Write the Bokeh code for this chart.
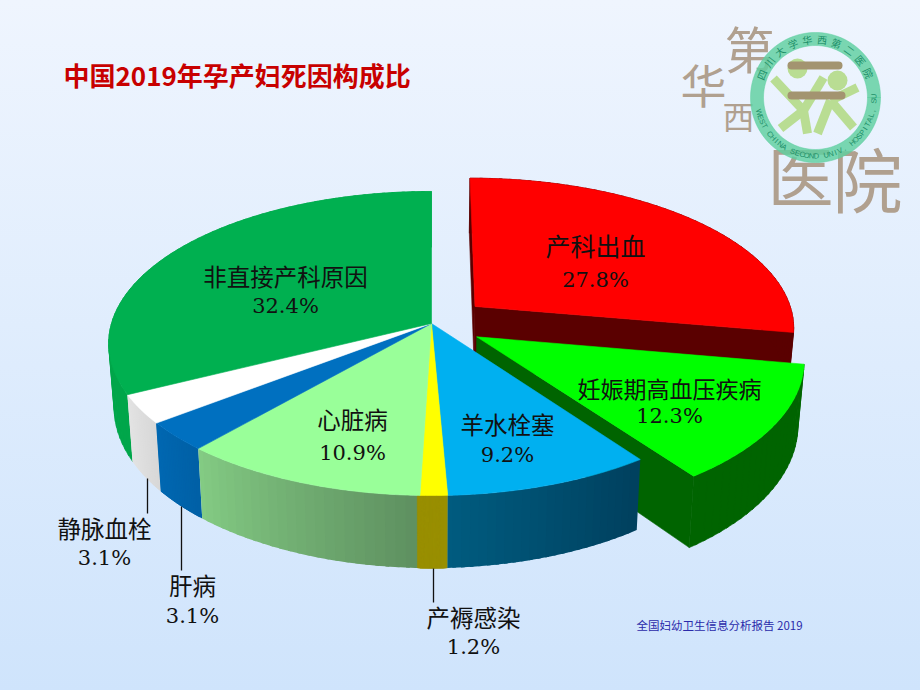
import math
from bokeh.plotting import figure
from bokeh.models import Range1d
from bokeh.core.properties import value
from bokeh.embed import file_html
from bokeh.resources import INLINE

# ---- data ----
categories = ["产科出血", "妊娠期高血压疾病", "羊水栓塞", "产褥感染", "心脏病", "肝病", "静脉血栓", "非直接产科原因"]
shares = [27.8, 12.3, 9.2, 1.2, 10.9, 3.1, 3.1, 32.4]
share_labels = ["27.8%", "12.3%", "9.2%", "1.2%", "10.9%", "3.1%", "3.1%", "32.4%"]
explode = [0.18, 0.165, 0, 0, 0, 0, 0, 0]
top_colors = ["#ff0000", "#00ff00", "#00b0f0", "#ffff00", "#99ff99", "#0070c0", "#ffffff", "#00b050"]
side_left = ["#5a0000", "#006400", "#005c80", "#998f00", "#84cc84", "#0068b2", "#e4e4e4", "#00a64a"]
side_right = ["#5a0000", "#006400", "#00405e", "#998f00", "#5e9060", "#0060a6", "#d8d8d8", "#00a64a"]

label_x = [595, 669, 507, 473, 352, 192, 104, 285]
name_y = [244.5, 387, 423, 616, 418.5, 584.5, 527, 275.5]
pct_y = [279, 415, 454, 646, 452, 615.5, 557, 305]
name_size = [25, 23, 23.5, 23.5, 23.5, 23.5, 23.5, 23.5]
leaders = {3: (433, 568, 602), 5: (181, 506, 570), 6: (147, 478, 513)}

title = "中国2019年孕产妇死因构成比"
source_note = "全国妇幼卫生信息分析报告 2019"

# ---- projection of the tilted pie ----
CX, CY, RX, RY, PERSP, DEPTH, SHRINK = 431, 323, 320, 149.4, 0.1316, 63, 0.983


def project(X, Y, bottom=False):
    s = 1 / (1 + PERSP * Y)
    sx, sy = CX + RX * X * s, CY - RY * Y * s
    if bottom:
        sx, sy = CX + (sx - CX) * SHRINK, sy + DEPTH * s
    return sx, sy


def arc(a0, a1, ox, oy, bottom=False, step=1.0):
    n = max(2, int(abs(a1 - a0) / step) + 1)
    out = []
    for i in range(n + 1):
        a = math.radians(a0 + (a1 - a0) * i / n)
        out.append(project(ox + math.sin(a), oy + math.cos(a), bottom))
    return out


def lerp(c0, c1, t):
    a = [int(c0[i:i + 2], 16) for i in (1, 3, 5)]
    b = [int(c1[i:i + 2], 16) for i in (1, 3, 5)]
    return "#%02x%02x%02x" % tuple(round(x + (y - x) * t) for x, y in zip(a, b))


p = figure(width=920, height=690, x_range=Range1d(0, 920), y_range=Range1d(690, 0),
           output_backend="svg", toolbar_location=None, min_border=0)
p.axis.visible = False
p.grid.visible = False
p.outline_line_color = None
p.background_fill_color = None
p.border_fill_color = None


def poly(points, color, alpha=1.0, stroke=True):
    p.patch([q[0] for q in points], [q[1] for q in points], fill_color=color, fill_alpha=alpha,
            line_color=color if stroke else None, line_width=0.6, line_alpha=alpha)


total = sum(shares)
spans = []
acc = 0.0
for v in shares:
    spans.append((acc / total * 360, (acc + v) / total * 360))
    acc += v


def offset(i):
    a0, a1 = spans[i]
    m = math.radians((a0 + a1) / 2)
    return explode[i] * math.sin(m), explode[i] * math.cos(m)


def radial_face(i, angle, color):
    ox, oy = offset(i)
    a = math.radians(angle)
    ex, ey = ox + math.sin(a), oy + math.cos(a)
    poly([project(ox, oy), project(ex, ey), project(ex, ey, True), project(ox, oy, True)], color)


def outer_side(i):
    ox, oy = offset(i)
    a0, a1 = spans[i]
    same = side_left[i] == side_right[i]
    strips = max(24, int((a1 - a0) / 2))
    # painted from the end of the slice back to its start, each strip lapping over the last
    for k in range(strips - 1, -1, -1):
        b0 = a0 + (a1 - a0) * k / strips
        b1 = a0 + (a1 - a0) * (k + 1) / strips
        if k < strips - 1:
            b1 += 0.6
        c = lerp(side_left[i], side_right[i], 1 - (k + 0.5) / strips)
        poly(arc(b0, b1, ox, oy) + arc(b1, b0, ox, oy, True), c, stroke=same)


def top(i):
    ox, oy = offset(i)
    poly([project(ox, oy)] + arc(spans[i][0], spans[i][1], ox, oy), top_colors[i])


# exploded slices, back to front
radial_face(0, spans[0][0], side_left[0])
radial_face(0, spans[0][1], side_left[0])
outer_side(0)
top(0)
radial_face(1, spans[1][1], side_left[1])
outer_side(1)
top(1)
# the joined body
for i in range(7, 1, -1):
    outer_side(i)
for i in range(2, 8):
    top(i)

# leader lines
for i, (x, y0, y1) in leaders.items():
    p.segment([x], [y0], [x], [y1], line_color="#111111", line_width=1.3)

cjk = value("Noto Sans CJK SC")
num = value("DejaVu Serif")
for i, c in enumerate(categories):
    p.text([label_x[i]], [name_y[i]], text=[c], text_font=cjk, text_font_size=f"{name_size[i]}px",
           text_color="#111111", text_align="center", text_baseline="middle")
    p.text([label_x[i]], [pct_y[i]], text=[share_labels[i]], text_font=num, text_font_size="21px",
           text_color="#111111", text_align="center", text_baseline="middle")

p.text([63], [74], text=[title], text_font=cjk, text_font_size="26px", text_font_style="bold",
       text_color="#c80000", text_align="left", text_baseline="middle")
p.text([636], [624], text=[source_note], text_font=cjk, text_font_size="11.5px", text_color="#2a2aaa",
       text_align="left", text_baseline="middle")

# ---- hospital emblem ----
seal = ["第", "华", "西", "医", "院"]
seal_x = [749, 703, 738, 800, 867]
seal_y = [46, 82, 114, 172, 177]
seal_size = [50, 46, 32, 66, 70]
for s, x, y, z in zip(seal, seal_x, seal_y, seal_size):
    p.text([x], [y], text=[s], text_font=cjk, text_font_size=f"{z}px", text_color="#b0a08f",
           text_align="center", text_baseline="middle")

ecx, ecy = 815, 97
rim = []
for k in range(121):
    t = math.radians(k * 3)
    rim.append((ecx + 65 * math.cos(t), ecy + 65 * math.sin(t)))
for k in range(120, -1, -1):
    t = math.radians(k * 3)
    rim.append((ecx + 52 * math.cos(t), ecy + 52 * math.sin(t)))
poly(rim, "#5fd0a0", 0.82)

figure_strokes = [
    [(773, 78), (803, 110), (780, 128)], [(803, 110), (823, 77)], [(803, 110), (807, 133)],
    [(830, 100), (857, 87)], [(830, 100), (817, 133)], [(830, 100), (853, 127)],
]
for st in figure_strokes:
    p.line([q[0] for q in st], [q[1] for q in st], line_color="#b9dd93", line_width=9)
p.scatter([797, 837], [68, 80], size=20, fill_color="#b9dd93", line_color=None)
p.segment([791, 791], [65, 95], [838, 841], [65, 95], line_color="#a39470", line_width=8, line_cap="round")

ring_cn = "四川大学华西第二医院"
ring_en = "WEST CHINA SECOND UNIV. HOSPITAL, SU"
for k, ch in enumerate(ring_cn):
    th = 157 - k * 14.7
    r = math.radians(th)
    p.text([ecx + 58.5 * math.cos(r)], [ecy - 58.5 * math.sin(r)], text=[ch], text_font=cjk,
           text_font_size="10px", text_color="#1c8f68", text_align="center", text_baseline="middle",
           angle=[th - 90], angle_units="deg")
for k, ch in enumerate(ring_en):
    th = 195 + k * 4.75
    r = math.radians(th)
    p.text([ecx + 58.5 * math.cos(r)], [ecy - 58.5 * math.sin(r)], text=[ch], text_font=value("Liberation Sans"),
           text_font_size="7.5px", text_color="#1c8f68", text_align="center", text_baseline="middle",
           angle=[th + 90], angle_units="deg")

html = file_html(p, INLINE, title="中国2019年孕产妇死因构成比")
css = ("<style>html{height:690px;overflow:hidden;"
       "background:linear-gradient(180deg,#eff5fe 0px,#cfe4fc 690px) no-repeat;}"
       "body{background:transparent;}</style>")
html = html.replace("</head>", css + "</head>", 1)
open("out.html", "w").write(html)
